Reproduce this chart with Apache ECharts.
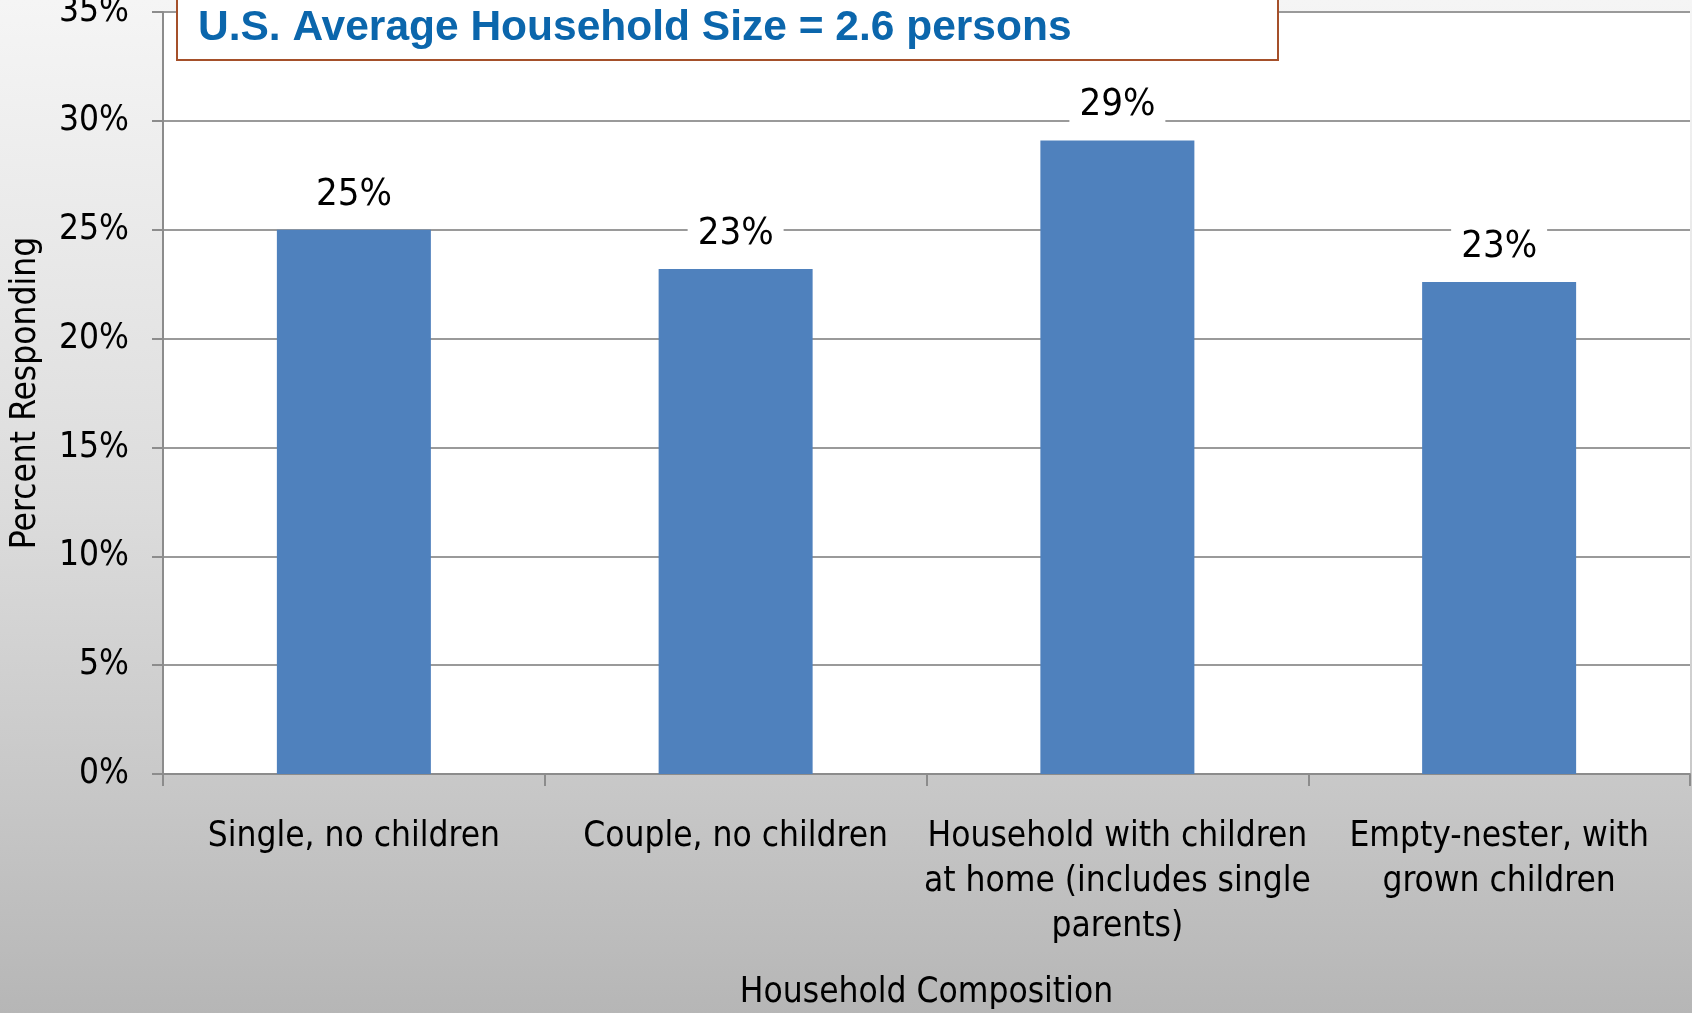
<!DOCTYPE html>
<html>
<head>
<meta charset="utf-8">
<script src="https://cdn.jsdelivr.net/npm/echarts@6/dist/echarts.min.js"></script>
<style>
  html, body { margin: 0; padding: 0; }
  #chart { width: 1692px; height: 1013px; }
</style>
</head>
<body>
<div id="chart"></div>
<script>
const categories = [
  "Single, no children",
  "Couple, no children",
  "Household with children\nat home (includes single\nparents)",
  "Empty-nester, with\ngrown children",
];
const percentResponding = [25.0, 23.2, 29.1, 22.6];
const yTicks = { min: 0, max: 35, interval: 5 };
const titleText = "U.S. Average Household Size = 2.6 persons";

const narrow = '"DejaVu Sans Condensed", "DejaVu Sans", sans-serif';

const chart = echarts.init(document.getElementById("chart"), null, { renderer: "canvas" });

chart.setOption({
  animation: false,
  backgroundColor: {
    type: "linear", x: 0, y: 0, x2: 0, y2: 1,
    colorStops: [
      { offset: 0, color: "#f5f5f5" },
      { offset: 0.5, color: "#dcdcdc" },
      { offset: 0.8, color: "#c6c6c6" },
      { offset: 1, color: "#b6b6b6" },
    ],
  },
  grid: {
    left: 163,
    right: 2,
    top: 12,
    bottom: 239,
    containLabel: false,
    outerBoundsMode: "none",
    show: true,
    backgroundColor: "#ffffff",
    borderWidth: 0,
  },
  xAxis: {
    type: "category",
    data: categories,
    name: "Household Composition",
    nameLocation: "middle",
    nameGap: 201,
    nameTextStyle: { fontFamily: narrow, fontSize: 35, color: "#000" },
    axisLine: { lineStyle: { color: "#8c8c8c", width: 2 } },
    axisTick: { show: true, length: 12, lineStyle: { color: "#8c8c8c", width: 2 } },
    axisLabel: {
      interval: 0,
      margin: 40,
      fontFamily: narrow,
      fontSize: 35,
      lineHeight: 45,
      color: "#000",
    },
  },
  yAxis: {
    type: "value",
    min: yTicks.min,
    max: yTicks.max,
    interval: yTicks.interval,
    name: "Percent Responding",
    nameLocation: "middle",
    nameGap: 120,
    nameTextStyle: { fontFamily: narrow, fontSize: 35, color: "#000" },
    axisLine: { show: true, lineStyle: { color: "#8c8c8c", width: 2 } },
    axisTick: { show: true, length: 11, lineStyle: { color: "#8c8c8c", width: 2 } },
    axisLabel: {
      margin: 34,
      fontFamily: narrow,
      fontSize: 35,
      color: "#000",
      formatter: "{value}%",
    },
    splitLine: { lineStyle: { color: "#9a9a9a", width: 2 } },
  },
  series: [
    {
      type: "bar",
      data: percentResponding,
      barWidth: 154,
      itemStyle: { color: "#4f81bd" },
      label: {
        show: true,
        position: "top",
        distance: 14,
        fontFamily: narrow,
        fontSize: 38,
        color: "#000",
        backgroundColor: "#ffffff",
        padding: [2, 10],
        formatter: (p) => Math.round(p.value) + "%",
      },
    },
  ],
  graphic: [
    {
      type: "rect",
      z: 100,
      shape: { x: 177, y: -10, width: 1101, height: 70 },
      style: { fill: "#ffffff", stroke: "#a5502a", lineWidth: 2 },
    },
    {
      type: "text",
      z: 101,
      x: 198,
      y: 28,
      style: {
        text: titleText,
        fontFamily: '"Liberation Sans", Arial, sans-serif',
        fontWeight: "bold",
        fontSize: 42.5,
        fill: "#0b66ac",
        verticalAlign: "middle",
      },
    },
  ],
});
</script>
</body>
</html>
